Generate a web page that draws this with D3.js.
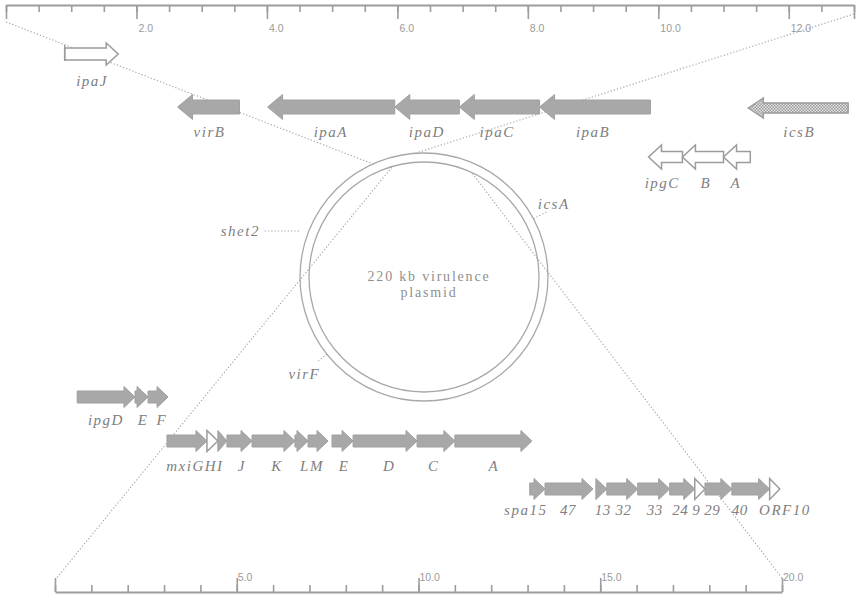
<!DOCTYPE html>
<html>
<head>
<meta charset="utf-8">
<title>220 kb virulence plasmid</title>
<script src="https://cdn.jsdelivr.net/npm/d3@7"></script>
<style>
  body { margin: 0; background: #fff; }
  .name { font-family: "Liberation Serif", serif; font-style: italic; font-size: 15px; letter-spacing: 1.5px; fill: #808080; }
  .num { letter-spacing: 0.5px; }
  .ticklab { font-family: "Liberation Sans", sans-serif; font-size: 10.5px; fill: #9a9a9a; }
  .axis path, .axis line { stroke: #9c9c9c; }
</style>
</head>
<body>
<div id="container"></div>
<script>
// kb scales: top = ipa region (0-13), bottom = mxi/spa region (0-20)
var topMinor = d3.range(0, 13.01, 0.5)
var topMajor = [0, 2, 4, 6, 8, 10, 12, 13]
var topLabels = [2, 4, 6, 8, 10, 12]
var botMinor = d3.range(0, 20.01, 1)
var botMajor = [0, 5, 10, 15, 20]
var botLabels = [5, 10, 15, 20]

// genes: start/end kb, strand, kind, track
var topGenes = [
  {name: "ipaJ", start: 0.90, end: 1.72, strand: 1, kind: "openbar", track: 0},
  {name: "virB", start: 2.63, end: 3.58, strand: -1, kind: "filled", track: 1},
  {name: "ipaA", start: 4.01, end: 5.96, strand: -1, kind: "filled", track: 1},
  {name: "ipaD", start: 5.96, end: 6.95, strand: -1, kind: "filled", track: 1},
  {name: "ipaC", start: 6.95, end: 8.18, strand: -1, kind: "filled", track: 1},
  {name: "ipaB", start: 8.18, end: 9.88, strand: -1, kind: "filled", track: 1},
  {name: "icsB", start: 11.38, end: 12.91, strand: -1, kind: "hatched", track: 3},
  {name: "ipgC", start: 9.85, end: 10.37, strand: -1, kind: "open", track: 2},
  {name: "ipgB", start: 10.37, end: 11.0, strand: -1, kind: "open", track: 2},
  {name: "ipgA", start: 11.0, end: 11.41, strand: -1, kind: "open", track: 2}
]
var topNames = [
  {text: "ipaJ", at: 1.32, track: 0},
  {text: "virB", at: 3.12, track: 1},
  {text: "ipaA", at: 4.98, track: 1},
  {text: "ipaD", at: 6.45, track: 1},
  {text: "ipaC", at: 7.53, track: 1},
  {text: "ipaB", at: 9.0, track: 1},
  {text: "icsB", at: 12.16, track: 3},
  {text: "ipgC", at: 10.06, track: 2},
  {text: "B", at: 10.73, track: 2},
  {text: "A", at: 11.19, track: 2}
]

var botGenes = [
  {name: "ipgD", start: 0.61, end: 2.20, strand: 1, kind: "filled", track: 0},
  {name: "ipgE", start: 2.20, end: 2.56, strand: 1, kind: "filled", track: 0},
  {name: "ipgF", start: 2.56, end: 3.11, strand: 1, kind: "filled", track: 0},
  {name: "mxiG", start: 3.08, end: 4.18, strand: 1, kind: "filled", track: 1},
  {name: "mxiH", start: 4.18, end: 4.48, strand: 1, kind: "open", track: 1},
  {name: "mxiI", start: 4.48, end: 4.73, strand: 1, kind: "filled", track: 1},
  {name: "mxiJ", start: 4.73, end: 5.42, strand: 1, kind: "filled", track: 1},
  {name: "mxiK", start: 5.42, end: 6.60, strand: 1, kind: "filled", track: 1},
  {name: "mxiL", start: 6.60, end: 6.96, strand: 1, kind: "filled", track: 1},
  {name: "mxiM", start: 6.96, end: 7.51, strand: 1, kind: "filled", track: 1},
  {name: "mxiE", start: 7.62, end: 8.20, strand: 1, kind: "filled", track: 1},
  {name: "mxiD", start: 8.20, end: 9.96, strand: 1, kind: "filled", track: 1},
  {name: "mxiC", start: 9.96, end: 11.0, strand: 1, kind: "filled", track: 1},
  {name: "mxiA", start: 11.0, end: 13.12, strand: 1, kind: "filled", track: 1},
  {name: "spa15", start: 13.06, end: 13.48, strand: 1, kind: "filled", track: 2},
  {name: "spa47", start: 13.48, end: 14.80, strand: 1, kind: "filled", track: 2},
  {name: "spa13", start: 14.88, end: 15.18, strand: 1, kind: "filled", track: 2},
  {name: "spa32", start: 15.18, end: 16.03, strand: 1, kind: "filled", track: 2},
  {name: "spa33", start: 16.03, end: 16.91, strand: 1, kind: "filled", track: 2},
  {name: "spa24", start: 16.91, end: 17.60, strand: 1, kind: "filled", track: 2},
  {name: "spa9", start: 17.60, end: 17.88, strand: 1, kind: "open", track: 2},
  {name: "spa29", start: 17.88, end: 18.62, strand: 1, kind: "filled", track: 2},
  {name: "spa40", start: 18.62, end: 19.66, strand: 1, kind: "filled", track: 2},
  {name: "ORF10", start: 19.66, end: 19.94, strand: 1, kind: "open", track: 2}
]
var botNames = [
  {text: "ipgD", at: 1.40, track: 0},
  {text: "E", at: 2.42, track: 0},
  {text: "F", at: 2.94, track: 0},
  {text: "mxiGHI", at: 3.85, track: 1},
  {text: "J", at: 5.14, track: 1},
  {text: "K", at: 6.11, track: 1},
  {text: "LM", at: 7.07, track: 1},
  {text: "E", at: 7.95, track: 1},
  {text: "D", at: 9.19, track: 1},
  {text: "C", at: 10.42, track: 1},
  {text: "A", at: 12.07, track: 1},
  {text: "spa15", at: 12.95, track: 2},
  {text: "47", at: 14.11, track: 2},
  {text: "13", at: 15.07, track: 2},
  {text: "32", at: 15.64, track: 2},
  {text: "33", at: 16.50, track: 2},
  {text: "24", at: 17.20, track: 2},
  {text: "9", at: 17.64, track: 2},
  {text: "29", at: 18.08, track: 2},
  {text: "40", at: 18.84, track: 2},
  {text: "ORF10", at: 20.08, track: 2}
]

// plasmid loci (degrees clockwise from top) and the map windows on the circle
var plasmidLoci = [
  {name: "shet2", angle: -69},
  {name: "icsA", angle: 62},
  {name: "virF", angle: -128.5}
]
var topWindow = [-24.3, -4.2]
var botWindow = [-15.9, 24.3]

var width = 856, height = 598
var svg = d3.select("#container").append("svg")
    .attr("width", width).attr("height", height)

var defs = svg.append("defs")
var pat = defs.append("pattern").attr("id", "checker")
    .attr("width", 3).attr("height", 3).attr("patternUnits", "userSpaceOnUse")
pat.append("rect").attr("width", 3).attr("height", 3).attr("fill", "#e4e4e4")
pat.append("rect").attr("width", 1.5).attr("height", 1.5).attr("fill", "#9a9a9a")
pat.append("rect").attr("x", 1.5).attr("y", 1.5).attr("width", 1.5).attr("height", 1.5).attr("fill", "#9a9a9a")

var xTop = d3.scaleLinear().domain([0, 13]).range([6, 854])
var xBot = d3.scaleLinear().domain([0, 20]).range([55, 782])

// track layout
var topTrack = [
  {y: 54, ly: 86, shaft: 6, hh: 11, head: 12},
  {y: 107, ly: 137, shaft: 7, hh: 12.5, head: 15},
  {y: 157, ly: 188, shaft: 5.5, hh: 12, head: 13},
  {y: 108, ly: 137, shaft: 5, hh: 10, head: 15}
]
var botTrack = [
  {y: 397, ly: 425, shaft: 6, hh: 10.5, head: 11},
  {y: 441, ly: 471, shaft: 6, hh: 10.5, head: 11},
  {y: 489, ly: 515, shaft: 6, hh: 10.5, head: 11}
]

// axes
function drawAxis(gen, scale, minor, major, y) {
  var g1 = svg.append("g").attr("class", "axis").attr("transform", "translate(0," + y + ")")
    .call(gen(scale).tickValues(minor).tickSize(7).tickSizeOuter(0).tickFormat(""))
  g1.select(".domain").attr("stroke-width", 2)
  g1.selectAll("line").attr("stroke-width", 1.6)
  var g2 = svg.append("g").attr("class", "axis").attr("transform", "translate(0," + y + ")")
    .call(gen(scale).tickValues(major).tickSize(14).tickSizeOuter(0).tickFormat(""))
  g2.select(".domain").remove()
  g2.selectAll("line").attr("stroke-width", 1.6)
}
drawAxis(d3.axisBottom, xTop, topMinor, topMajor, 5)
drawAxis(d3.axisTop, xBot, botMinor, botMajor, 592)

svg.selectAll(".tlab").data(topLabels).enter().append("text")
    .attr("class", "ticklab")
    .attr("x", function(d) { return xTop(d) + 2 })
    .attr("y", 32)
    .text(d3.format(".1f"))
svg.selectAll(".blab").data(botLabels).enter().append("text")
    .attr("class", "ticklab")
    .attr("x", function(d) { return xBot(d) + 1 })
    .attr("y", 581)
    .text(d3.format(".1f"))

// plasmid circle
var cx = 424, cy = 277, rOut = 124, rIn = 115
function onCircle(r, deg) {
  var a = deg * Math.PI / 180
  return [cx + r * Math.sin(a), cy - r * Math.cos(a)]
}
svg.append("circle").attr("cx", cx).attr("cy", cy).attr("r", rOut)
    .attr("fill", "none").attr("stroke", "#a8a8a8").attr("stroke-width", 1.3)
svg.append("circle").attr("cx", cx).attr("cy", cy).attr("r", rIn)
    .attr("fill", "none").attr("stroke", "#a8a8a8").attr("stroke-width", 1.3)

svg.append("text").attr("x", cx + 5).attr("y", 281).attr("text-anchor", "middle")
    .attr("font-family", "Liberation Serif, serif").attr("font-size", 14)
    .attr("letter-spacing", 1.8).attr("fill", "#8f8f8f")
    .text("220 kb virulence")
svg.append("text").attr("x", cx + 5).attr("y", 297).attr("text-anchor", "middle")
    .attr("font-family", "Liberation Serif, serif").attr("font-size", 14)
    .attr("letter-spacing", 1.8).attr("fill", "#8f8f8f")
    .text("plasmid")

// dotted zoom lines from map ends to the circle
var zoomLines = [
  [[xTop(0), 22], onCircle(rOut, topWindow[0])],
  [[xTop(13), 14], onCircle(rOut, topWindow[1])],
  [[xBot(0), 580], onCircle(rIn, botWindow[0])],
  [[xBot(20), 578], onCircle(rIn, botWindow[1])]
]
svg.selectAll(".zoom").data(zoomLines).enter().append("path")
    .attr("d", d3.line())
    .attr("fill", "none").attr("stroke", "#a5a5a5")
    .attr("stroke-width", 1.1).attr("stroke-dasharray", "1.3,2")

// loci on the plasmid
plasmidLoci.forEach(function(d) {
  var a = onCircle(rOut + 10, d.angle), b
  if (d.name == "shet2") {
    a = [a[0], a[1] + 2]
    b = [a[0] - 36, a[1]]
    svg.append("text").attr("class", "name").attr("x", b[0] - 3).attr("y", b[1] + 5)
        .attr("text-anchor", "end").text(d.name)
  } else {
    a = onCircle(rOut, d.angle)
    b = onCircle(rOut + (d.name == "icsA" ? 15 : 11), d.angle)
    if (d.name == "icsA")
      svg.append("text").attr("class", "name").attr("x", b[0] - 9).attr("y", b[1] - 3).text(d.name)
    else
      svg.append("text").attr("class", "name").attr("x", b[0] - 14).attr("y", b[1] + 18)
          .attr("text-anchor", "middle").text(d.name)
  }
  svg.append("path").attr("d", d3.line()([a, b]))
      .attr("stroke", "#a5a5a5").attr("stroke-width", 1.1).attr("stroke-dasharray", "1.3,2")
})

// gene arrows
function arrowPath(x1, x2, strand, t) {
  var y = t.y, hl = Math.min(t.head, x2 - x1), pts
  if (strand > 0) {
    pts = [[x1, y - t.shaft], [x2 - hl, y - t.shaft], [x2 - hl, y - t.hh], [x2, y],
           [x2 - hl, y + t.hh], [x2 - hl, y + t.shaft], [x1, y + t.shaft]]
  } else {
    pts = [[x2, y - t.shaft], [x1 + hl, y - t.shaft], [x1 + hl, y - t.hh], [x1, y],
           [x1 + hl, y + t.hh], [x1 + hl, y + t.shaft], [x2, y + t.shaft]]
  }
  return d3.line()(pts) + "Z"
}
function fillOf(kind) {
  if (kind == "filled") return "#a8a8a8"
  if (kind == "hatched") return "url(#checker)"
  return "#fff"
}

function drawGenes(genes, names, x, tracks) {
  var g = svg.append("g")
  g.selectAll("path").data(genes).enter().append("path")
      .attr("d", function(d) { return arrowPath(x(d.start), x(d.end), d.strand, tracks[d.track]) })
      .attr("fill", function(d) { return fillOf(d.kind) })
      .attr("stroke", function(d) { return d.kind == "filled" ? "#a0a0a0" : "#9c9c9c" })
      .attr("stroke-width", function(d) { return d.kind == "filled" ? 1 : 1.5 })
  genes.filter(function(d) { return d.kind == "openbar" }).forEach(function(d) {
    var t = tracks[d.track]
    g.append("line").attr("x1", x(d.start)).attr("x2", x(d.start))
        .attr("y1", t.y - t.hh + 2).attr("y2", t.y + t.shaft + 1)
        .attr("stroke", "#9c9c9c").attr("stroke-width", 1.5)
  })
  g.selectAll("text").data(names).enter().append("text")
      .attr("class", function(d) { return /^\d+$/.test(d.text) ? "name num" : "name" })
      .attr("x", function(d) { return x(d.at) })
      .attr("y", function(d) { return tracks[d.track].ly })
      .attr("text-anchor", "middle")
      .text(function(d) { return d.text })
}
drawGenes(topGenes, topNames, xTop, topTrack)
drawGenes(botGenes, botNames, xBot, botTrack)
</script>
</body>
</html>
